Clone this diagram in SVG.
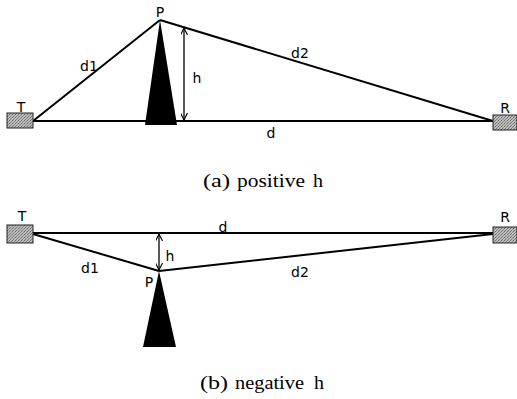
<svg xmlns="http://www.w3.org/2000/svg" width="517" height="399" viewBox="0 0 517 399">
<defs>
<pattern id="stip" width="3" height="3" patternUnits="userSpaceOnUse">
<rect width="3" height="3" fill="#bdbdbd"/>
<rect x="0" y="0" width="1" height="1" fill="#666"/>
<rect x="2" y="1" width="1" height="1" fill="#888"/>
<rect x="1" y="2" width="1" height="1" fill="#777"/>
</pattern>
<marker id="ah" viewBox="0 0 10 10" refX="10" refY="5" markerWidth="7" markerHeight="7" markerUnits="userSpaceOnUse" orient="auto-start-reverse">
<path d="M0,0 L10,5 L0,10" fill="none" stroke="#000" stroke-width="1.6"/>
</marker>
</defs>
<style>
.box{fill:url(#stip);stroke:#222;stroke-width:1}
.ln{stroke:#000;stroke-width:2;fill:none}
.arr{stroke:#000;stroke-width:1.3;fill:none}
.tower{fill:#000}
.lbl{font-family:"DejaVu Sans",Verdana,sans-serif;font-size:14px;fill:#000}
.cap{font-family:"Liberation Serif","Times New Roman",serif;font-size:18px;fill:#000}
</style>
<rect width="517" height="399" fill="#fff"/>

<!-- (a) positive h -->
<g id="connectors-a">
<line class="ln" x1="33" y1="121" x2="493" y2="121"/>
<line class="ln" x1="33" y1="121" x2="160" y2="20"/>
<line class="ln" x1="160" y1="20" x2="493" y2="121"/>
<line class="arr" x1="184" y1="28" x2="184" y2="120" marker-start="url(#ah)" marker-end="url(#ah)"/>
</g>
<g id="tower-a"><polygon class="tower" points="160,20 177,125 145,125"/></g>
<g id="T-a"><rect class="box" x="7" y="113" width="26" height="15"/><text class="lbl" x="21" y="112" text-anchor="middle">T</text></g>
<g id="R-a"><rect class="box" x="493" y="115" width="24" height="15"/><text class="lbl" x="505" y="113" text-anchor="middle">R</text></g>
<g id="P-a"><text class="lbl" x="160" y="17" text-anchor="middle">P</text></g>
<text class="lbl" x="89" y="71" text-anchor="middle">d1</text>
<text class="lbl" x="300" y="58" text-anchor="middle">d2</text>
<text class="lbl" x="197" y="83" text-anchor="middle">h</text>
<text class="lbl" x="271" y="138" text-anchor="middle">d</text>
<g id="caption-a">
<text class="cap" x="203" y="187" textLength="27" lengthAdjust="spacingAndGlyphs">(a)</text>
<text class="cap" x="237" y="187" textLength="68" lengthAdjust="spacingAndGlyphs">positive</text>
<text class="cap" x="313" y="187" textLength="10" lengthAdjust="spacingAndGlyphs">h</text>
</g>

<!-- (b) negative h -->
<g id="connectors-b">
<line class="ln" x1="33" y1="233" x2="493" y2="233"/>
<line class="ln" x1="33" y1="234" x2="159" y2="271"/>
<line class="ln" x1="159" y1="271" x2="493" y2="234"/>
<line class="arr" x1="159" y1="234" x2="159" y2="270" marker-start="url(#ah)" marker-end="url(#ah)"/>
</g>
<g id="tower-b"><polygon class="tower" points="159,271 176,347 143,347"/></g>
<g id="T-b"><rect class="box" x="7" y="225" width="26" height="18"/><text class="lbl" x="22" y="221" text-anchor="middle">T</text></g>
<g id="R-b"><rect class="box" x="493" y="227" width="24" height="16"/><text class="lbl" x="505" y="222" text-anchor="middle">R</text></g>
<g id="P-b"><text class="lbl" x="149" y="287" text-anchor="middle">P</text></g>
<text class="lbl" x="90" y="273" text-anchor="middle">d1</text>
<text class="lbl" x="300" y="277" text-anchor="middle">d2</text>
<text class="lbl" x="170" y="261" text-anchor="middle">h</text>
<text class="lbl" x="223" y="232" text-anchor="middle">d</text>
<g id="caption-b">
<text class="cap" x="200" y="389" textLength="28" lengthAdjust="spacingAndGlyphs">(b)</text>
<text class="cap" x="235" y="389" textLength="69" lengthAdjust="spacingAndGlyphs">negative</text>
<text class="cap" x="314" y="389" textLength="10" lengthAdjust="spacingAndGlyphs">h</text>
</g>
</svg>
